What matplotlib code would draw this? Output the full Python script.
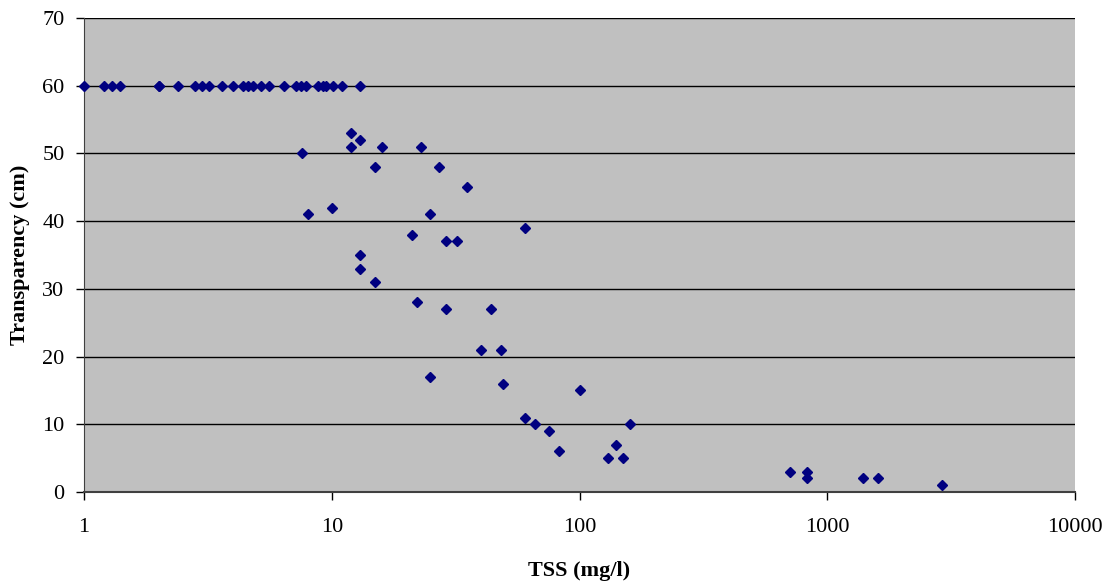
import numpy as np
import matplotlib.pyplot as plt

plt.rcParams['font.family'] = ['Liberation Serif', 'DejaVu Serif']

# TSS (mg/l) and transparency (cm)
tss = [1, 1.2, 1.3, 1.4, 2.0, 2.0, 2.4, 2.8, 3.0, 3.2, 3.6, 4.0, 4.4, 4.6, 4.8,
       5.2, 5.6, 6.4, 7.2, 7.5, 7.9, 8.8, 9.2, 9.5, 10.1, 11, 13,
       12, 13, 12, 16, 23, 7.6, 15, 27, 35, 8, 10, 25, 60, 21, 29, 32,
       13, 13, 15, 22, 29, 44, 40, 48, 25, 49, 100, 60, 66, 75, 83,
       160, 140, 130, 150, 710, 830, 830, 1400, 1600, 2900]
transparency = [60, 60, 60, 60, 60, 60, 60, 60, 60, 60, 60, 60, 60, 60, 60,
                60, 60, 60, 60, 60, 60, 60, 60, 60, 60, 60, 60,
                53, 52, 51, 51, 51, 50, 48, 48, 45, 41, 42, 41, 39, 38, 37, 37,
                35, 33, 31, 28, 27, 27, 21, 21, 17, 16, 15, 11, 10, 9, 6,
                10, 7, 5, 5, 3, 3, 2, 2, 2, 1]

yticks = np.arange(0, 71, 10)
xticks = [1, 10, 100, 1000, 10000]

fig = plt.figure(figsize=(11.12, 5.85), dpi=100)
ax = fig.add_axes([84 / 1112, 1 - 492 / 585, (1075 - 84) / 1112, (492 - 18) / 585])
ax.set_facecolor('#C0C0C0')

ax.set_xscale('log')
ax.set_xlim(1, 10000)
ax.set_ylim(0, 70)

for y in yticks[1:]:
    ax.axhline(y, color='black', lw=1.0, zorder=1)

ax.plot(tss, transparency, 'D', color='#000080', markersize=4.8,
        clip_on=False, zorder=3)

ax.set_xticks(xticks)
ax.set_xticklabels([str(v) for v in xticks])
ax.xaxis.set_minor_locator(plt.NullLocator())
ax.set_yticks(yticks)

ax.tick_params(axis='x', direction='out', length=6, width=1, labelsize=16, pad=13)
ax.tick_params(axis='y', direction='out', length=6, width=1, labelsize=16, pad=8)

for side in ['top', 'right']:
    ax.spines[side].set_visible(False)
ax.spines['left'].set_color('#404040')
ax.spines['bottom'].set_color('#404040')
ax.spines['bottom'].set_linewidth(1.5)

ax.set_xlabel('TSS (mg/l)', fontsize=16, fontweight='bold', labelpad=17)
ax.set_ylabel('Transparency (cm)', fontsize=16, fontweight='bold', labelpad=9)

fig.savefig('out.png', dpi=100)
